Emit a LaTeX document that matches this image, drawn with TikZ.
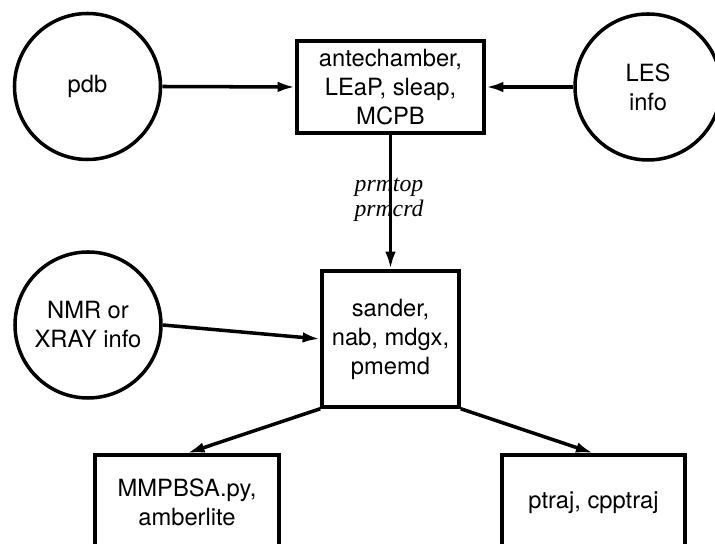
\documentclass[tikz,border=0pt]{standalone}
\usepackage{fontspec}
\setmainfont{TeX Gyre Heros}
\newfontfamily\labelfont{Liberation Serif}
\usetikzlibrary{arrows.meta}

\begin{document}
\begin{tikzpicture}[
    line width=2pt,
    every node/.style={font=\fontsize{13.5}{16.5}\selectfont, align=center},
    infocircle/.style={draw, circle, minimum size=2.92cm, inner sep=0pt},
    progbox/.style={draw, rectangle, inner sep=0pt},
    flow/.style={-{Latex[length=10pt,width=6pt]}}
]
    % Frame of the picture
    \useasboundingbox (0,0) rectangle (14.3,10.86);
    \clip (0,0) rectangle (14.3,10.86);

    % Inputs
    \node[infocircle] (pdb) at (1.75,9.13) {pdb};
    \node[infocircle] (les) at (12.96,9.12) {LES\\info};
    \node[infocircle] (nmr) at (1.76,4.36) {NMR or\\XRAY info};

    % Preparation programs
    \node[progbox, minimum width=3.74cm, minimum height=1.84cm] (prep) at (7.81,9.12)
        {antechamber,\\LEaP, sleap,\\MCPB};

    % Simulation programs
    \node[progbox, minimum width=2.74cm, minimum height=2.72cm] (sim) at (7.81,4.08)
        {sander,\\nab, mdgx,\\pmemd};

    % Analysis programs
    \node[progbox, minimum width=3.68cm, minimum height=1.9cm] (mmpbsa) at (3.74,0.81)
        {MMPBSA.py,\\amberlite};
    \node[progbox, minimum width=3.66cm, minimum height=1.9cm] (ptraj) at (11.87,0.81)
        {ptraj, cpptraj};

    % Connectors
    \draw[flow] (pdb.east) -- (prep.west);
    \draw[flow] (les.west) -- (prep.east);
    \draw[flow] (prep.south) -- (sim.north);
    \draw[flow] (nmr.east) -- (sim.west);
    \draw[flow] (sim.south west) -- (mmpbsa.north);
    \draw[flow] (sim.south east) -- (ptraj.north);

    % File label
    \node[font=\labelfont\itshape\fontsize{13.5}{14.5}\selectfont] (files) at (7.78,6.86)
        {prmtop\\prmcrd};
\end{tikzpicture}
\end{document}
